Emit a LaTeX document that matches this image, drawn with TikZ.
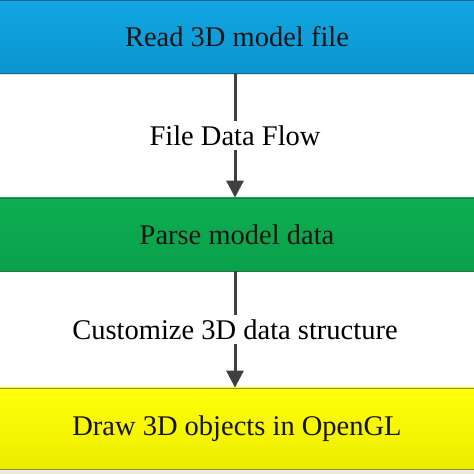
\documentclass[tikz,border=0pt]{standalone}
\usepackage{fontspec}
\setmainfont{Liberation Serif}
\usetikzlibrary{arrows.meta,positioning}
\definecolor{bluetop}{RGB}{18,166,226}
\definecolor{bluebot}{RGB}{10,150,208}
\definecolor{blueedge}{RGB}{30,100,140}
\definecolor{greentop}{RGB}{14,174,82}
\definecolor{greenbot}{RGB}{10,160,74}
\definecolor{greenedge}{RGB}{40,110,70}
\definecolor{yellowtop}{RGB}{255,255,10}
\definecolor{yellowbot}{RGB}{236,236,0}
\definecolor{yellowedge}{RGB}{150,140,40}
\definecolor{arrowgrey}{RGB}{64,64,64}
\begin{document}
\begin{tikzpicture}[x=1pt,y=1pt,
  stage/.style={minimum width=476pt,inner sep=0pt,font=\fontsize{28.5}{34}\selectfont,text=black!92},
  flowlabel/.style={fill=white,inner sep=4pt,font=\fontsize{28.5}{34}\selectfont,text=black},
  flow/.style={draw=arrowgrey,line width=3pt,-{Triangle[width=17pt,length=17pt]}}]
\useasboundingbox (0,0) rectangle (474,474);
\fill[black!9] (0,0) rectangle (474,6);
\fill[black!12] (0,398.5) rectangle (474,401.5);
\node[stage,minimum height=73pt,top color=bluetop,bottom color=bluebot,draw=blueedge,line width=0.8pt] (read) at (237,437.5) {Read 3D model file};
\node[stage,minimum height=73pt,top color=greentop,bottom color=greenbot,draw=greenedge,line width=0.8pt] (parse) at (237,239.5) {Parse model data};
\node[stage,minimum height=81pt,top color=yellowtop,bottom color=yellowbot,draw=yellowedge,line width=0.8pt] (drawgl) at (237,45.5) {Draw 3D objects in OpenGL};
\draw[flow] (read.south -| 235,0) -- (parse.north -| 235,0) node[midway,flowlabel] (lab1) {File Data Flow};
\draw[flow] (parse.south -| 235,0) -- (drawgl.north -| 235,0) node[midway,flowlabel] (lab2) {Customize 3D data structure};
\end{tikzpicture}
\end{document}
